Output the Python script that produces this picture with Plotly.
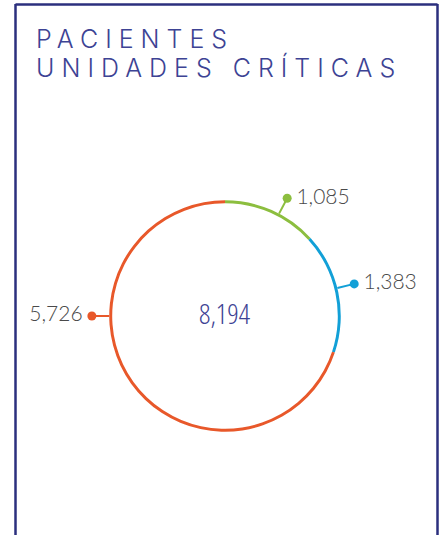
import plotly.graph_objects as go

# data
segments = ["1,085", "1,383", "5,726"]
values = [1085, 1383, 5726]
colors = ["#8cbe3f", "#12a0d7", "#e8582a"]
title_lines = ["PACIENTES", "UNIDADES CRÍTICAS"]

W, H = 441, 535
NAVY = "#2b2f7e"
TITLE_COLOR = "#3d4394"
LABEL_COLOR = "#4a4a4a"

total = sum(values)
spans = [v / total * 360 for v in values]
starts = [sum(spans[:i]) for i in range(len(spans))]
mids = [s + w / 2 for s, w in zip(starts, spans)]
# leaders sit near each segment's middle; the big one is labelled at 9 o'clock
label_theta = [mids[0] + 4, mids[1] - 2, 270]
text_pos = ["middle right", "middle right", "middle left"]

fig = go.Figure()

# thin ring
fig.add_trace(go.Barpolar(
    r=[0.026] * len(values),
    base=[0.987] * len(values),
    theta=mids,
    width=spans,
    marker=dict(color=colors, line=dict(width=0)),
    hoverinfo="skip",
))

for t, c, lab, pos in zip(label_theta, colors, segments, text_pos):
    fig.add_trace(go.Scatterpolar(
        r=[1.013, 1.165], theta=[t, t], mode="lines",
        line=dict(color=c, width=2), hoverinfo="skip",
    ))
    lab = "\u2009" + lab if pos == "middle right" else lab + "\u2009"
    fig.add_trace(go.Scatterpolar(
        r=[1.165], theta=[t], mode="markers+text",
        marker=dict(color=c, size=9),
        text=[lab], textposition=pos,
        textfont=dict(family="Lato", size=21, color=LABEL_COLOR, weight=300),
        cliponaxis=False, hoverinfo="skip",
    ))

cx, cy, R = 225, 316, 160
fig.update_layout(
    width=W, height=H,
    margin=dict(l=0, r=0, t=0, b=0),
    paper_bgcolor="white",
    showlegend=False,
    polar=dict(
        domain=dict(x=[(cx - R) / W, (cx + R) / W],
                    y=[(H - cy - R) / H, (H - cy + R) / H]),
        bgcolor="rgba(0,0,0,0)",
        radialaxis=dict(visible=False, range=[0, 1.4]),
        angularaxis=dict(visible=False, rotation=90, direction="clockwise"),
    ),
)

# card border (bottom runs off the page)
fig.add_shape(type="line", xref="paper", yref="paper",
              x0=15.5 / W, x1=15.5 / W, y0=0, y1=(H - 4) / H,
              line=dict(color=NAVY, width=2.5))
fig.add_shape(type="line", xref="paper", yref="paper",
              x0=15.5 / W, x1=437.5 / W, y0=(H - 4.5) / H, y1=(H - 4.5) / H,
              line=dict(color=NAVY, width=2.5))
fig.add_shape(type="line", xref="paper", yref="paper",
              x0=437.5 / W, x1=437.5 / W, y0=0, y1=(H - 4) / H,
              line=dict(color=NAVY, width=2.5))

# title
for i, line in enumerate(title_lines):
    fig.add_annotation(
        xref="paper", yref="paper", x=34 / W, y=(H - 22 - i * 28) / H,
        xanchor="left", yanchor="top", showarrow=False,
        text=f'<span style="letter-spacing:7px">{line}</span>',
        font=dict(family="Inter", size=25, color=TITLE_COLOR, weight=300),
    )

# total in the middle (condensed)
fig.add_annotation(
    xref="paper", yref="paper", x=cx / W, y=(H - 313) / H,
    xanchor="center", yanchor="middle", showarrow=False,
    text=f'<span style="font-stretch:75%">{total:,}</span>',
    font=dict(family="Open Sans", size=28, color=TITLE_COLOR, weight=300),
)

fig.write_html("out.html", config={"displayModeBar": False},
               post_script="document.body.style.margin='0';"
                           "document.body.style.overflow='hidden';")
